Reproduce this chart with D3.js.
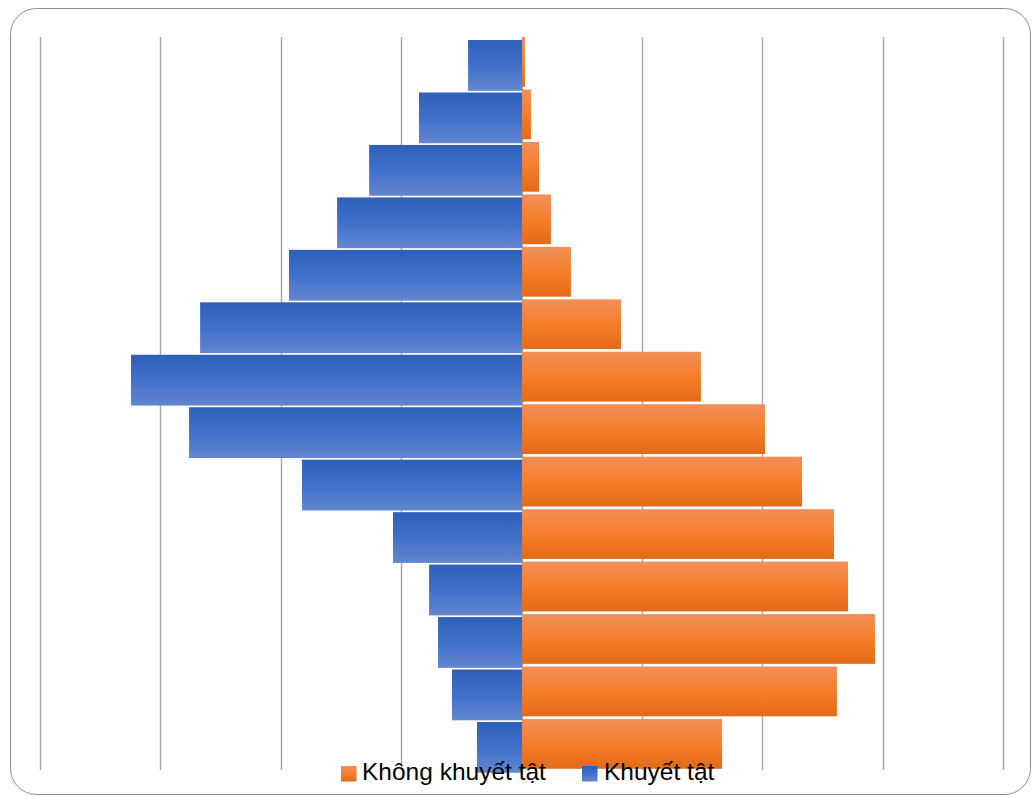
<!DOCTYPE html>
<html>
<head>
<meta charset="utf-8">
<script src="https://cdn.jsdelivr.net/npm/d3@7"></script>
<style>
  html, body { margin: 0; padding: 0; background: #ffffff; }
  svg { display: block; }
  .legend text { font-family: "Liberation Sans", Arial, sans-serif; font-size: 24.5px; fill: #000; }
</style>
</head>
<body>
<svg id="chart" width="1032" height="796"></svg>
<script>
// Age groups, oldest at the top
const ageGroups = ["65+", "60-64", "55-59", "50-54", "45-49", "40-44", "35-39",
                   "30-34", "25-29", "20-24", "15-19", "10-14", "5-9", "0-4"];
// Share of each group (%), people with disabilities (drawn to the left)
const disabled = [2.24, 4.28, 6.35, 7.68, 9.68, 13.37, 16.24, 13.83, 9.14, 5.36, 3.86, 3.49, 2.91, 1.87];
// Share of each group (%), people without disabilities (drawn to the right)
const nonDisabled = [0.12, 0.37, 0.71, 1.20, 2.03, 4.11, 7.43, 10.09, 11.63, 12.96, 13.54, 14.66, 13.08, 8.31];
const gridTicks = [-20, -15, -10, -5, 0, 5, 10, 15, 20];
const seriesNames = ["Không khuyết tật", "Khuyết tật"];

const svg = d3.select("#chart");

// Gradients for the bar fills
const defs = svg.append("defs");
const gBlue = defs.append("linearGradient").attr("id", "gradBlue")
  .attr("x1", 0).attr("y1", 0).attr("x2", 0).attr("y2", 1);
gBlue.append("stop").attr("offset", "0%").attr("stop-color", "#2f60b9");
gBlue.append("stop").attr("offset", "50%").attr("stop-color", "#4070cb");
gBlue.append("stop").attr("offset", "100%").attr("stop-color", "#6386cf");
const gOrange = defs.append("linearGradient").attr("id", "gradOrange")
  .attr("x1", 0).attr("y1", 0).attr("x2", 0).attr("y2", 1);
gOrange.append("stop").attr("offset", "0%").attr("stop-color", "#f08f5a");
gOrange.append("stop").attr("offset", "50%").attr("stop-color", "#f57e2a");
gOrange.append("stop").attr("offset", "100%").attr("stop-color", "#e36a17");

// Chart frame
svg.append("rect")
  .attr("x", 10.5).attr("y", 8.5)
  .attr("width", 1020).attr("height", 786)
  .attr("rx", 26).attr("ry", 26)
  .attr("fill", "#ffffff")
  .attr("stroke", "#8c8c8c").attr("stroke-width", 1);

const x = d3.scaleLinear().domain([-20, 20]).range([40.5, 1003.5]);
const y = d3.scaleBand().domain(ageGroups).range([39.2, 773.6])
  .paddingInner(0.032).paddingOuter(0.016);

// Vertical gridlines
svg.append("g")
  .selectAll("line")
  .data(gridTicks)
  .join("line")
  .attr("x1", d => Math.floor(x(d)) + 0.5)
  .attr("x2", d => Math.floor(x(d)) + 0.5)
  .attr("y1", 37).attr("y2", 770)
  .attr("stroke", "#a6a6a6").attr("stroke-width", 1.4);

const rows = ageGroups.map((g, i) => ({ g, dis: disabled[i], non: nonDisabled[i] }));

// Bars without disabilities (right side)
svg.append("g")
  .selectAll("rect")
  .data(rows)
  .join("rect")
  .attr("x", x(0))
  .attr("y", d => y(d.g) - 3)
  .attr("width", d => x(d.non) - x(0))
  .attr("height", y.bandwidth() - 1)
  .attr("fill", "url(#gradOrange)");

// Bars with disabilities (left side)
svg.append("g")
  .selectAll("rect")
  .data(rows)
  .join("rect")
  .attr("x", d => x(-d.dis))
  .attr("y", d => y(d.g))
  .attr("width", d => x(0) - x(-d.dis))
  .attr("height", y.bandwidth())
  .attr("fill", "url(#gradBlue)");

// Legend
const legend = svg.append("g").attr("class", "legend");
const legendItems = [
  { name: seriesNames[0], fill: "url(#gradOrange)", sx: 341, tx: 362 },
  { name: seriesNames[1], fill: "url(#gradBlue)", sx: 582, tx: 604 }
];
legendItems.forEach(it => {
  legend.append("rect").attr("x", it.sx).attr("y", 766)
    .attr("width", 15.5).attr("height", 15.5).attr("fill", it.fill);
  legend.append("text").attr("x", it.tx).attr("y", 780).text(it.name);
});
</script>
</body>
</html>
